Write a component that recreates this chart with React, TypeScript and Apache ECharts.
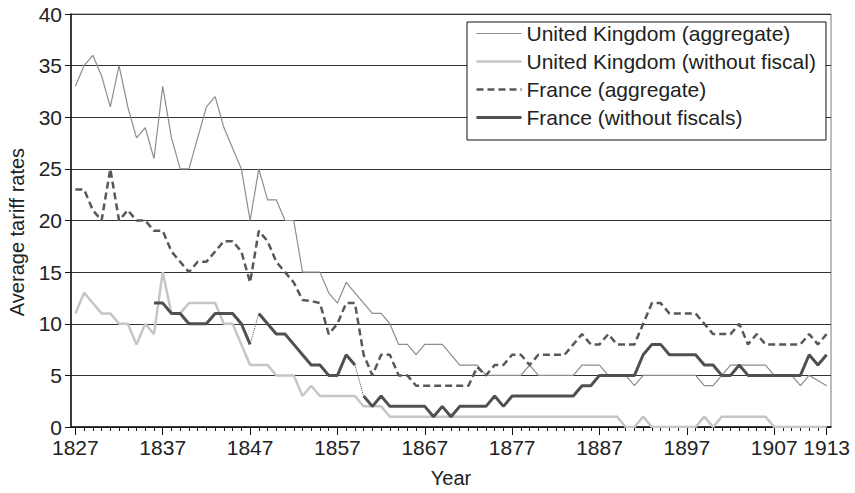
import React, { useEffect, useRef } from "react";
import * as echarts from "echarts";

const years: number[] = Array.from({ length: 87 }, (_, i) => 1827 + i);
const xLabelYears = [1827, 1837, 1847, 1857, 1867, 1877, 1887, 1897, 1907, 1913];

const ukAggregate = [
  33, 35, 36, 34, 31, 35, 31, 28, 29, 26,
  33, 28, 25, 25, 28, 31, 32, 29, 27, 25,
  20, 25, 22, 22, 20, 20, 15, 15, 15, 13,
  12, 14, 13, 12, 11, 11, 10, 8, 8, 7,
  8, 8, 8, 7, 6, 6, 6, 5, 5, 5,
  5, 5, 6, 5, 5, 5, 5, 5, 6, 6,
  6, 5, 5, 5, 4, 5, 5, 5, 5, 5,
  5, 5, 4, 4, 5, 6, 6, 6, 6, 6,
  5, 5, 5, 4, 5, 4.5, 4,
];

const ukWithoutFiscal = [
  11, 13, 12, 11, 11, 10, 10, 8, 10, 9,
  15, 11, 11, 12, 12, 12, 12, 10, 10, 8,
  6, 6, 6, 5, 5, 5, 3, 4, 3, 3,
  3, 3, 3, 2, 2, 2, 1, 1, 1, 1,
  1, 1, 1, 1, 1, 1, 1, 1, 1, 1,
  1, 1, 1, 1, 1, 1, 1, 1, 1, 1,
  1, 1, 1, 0, 0, 1, 0, 0, 0, 0,
  0, 0, 1, 0, 1, 1, 1, 1, 1, 1,
  0, 0, 0, 0, 0, 0, 0,
];

const franceAggregate = [
  23, 23, 21, 20, 25, 20, 21, 20, 20, 19,
  19, 17, 16, 15, 16, 16, 17, 18, 18, 17,
  14, 19, 18, 16, 15, 14, 12.3, 12.2, 12, 9,
  10, 12, 12, 7, 5, 7, 7, 5, 5, 4,
  4, 4, 4, 4, 4, 4, 5.8, 5, 6, 6,
  7, 7, 6, 7, 7, 7, 7, 8, 9, 8,
  8, 9, 8, 8, 8, 10, 12, 12, 11, 11,
  11, 11, 10, 9, 9, 9, 10, 8, 9, 8,
  8, 8, 8, 8, 9, 8, 9,
];

const franceWithoutFiscals: (number | null)[] = [
  null, null, null, null, null, null, null, null, null, 12,
  12, 11, 11, 10, 10, 10, 11, 11, 11, 10,
  8, 11, 10, 9, 9, 8, 7, 6, 6, 5,
  5, 7, 6, 3, 2, 3, 2, 2, 2, 2,
  2, 1, 2, 1, 2, 2, 2, 2, 3, 2,
  3, 3, 3, 3, 3, 3, 3, 3, 4, 4,
  5, 5, 5, 5, 5, 7, 8, 8, 7, 7,
  7, 7, 6, 6, 5, 5, 6, 5, 5, 5,
  5, 5, 5, 5, 7, 6, 7,
];

// France (without fiscals) is drawn as separate segments joined by thin dotted links
const franceSegments: [number, number][] = [
  [1836, 1847],
  [1848, 1859],
  [1860, 1913],
];

const legendNames = [
  "United Kingdom (aggregate)",
  "United Kingdom (without fiscal)",
  "France (aggregate)",
  "France (without fiscals)",
];

const FONT = "'Liberation Sans', Arial, Helvetica, sans-serif";

function pairs(vals: (number | null)[]) {
  return years.map((y, i) => [y, vals[i] === null ? "-" : vals[i]]);
}

function valueAt(year: number) {
  return franceWithoutFiscals[years.indexOf(year)];
}

export default function App() {
  const ref = useRef<HTMLDivElement>(null);

  useEffect(() => {
    if (!ref.current) return;
    const chart = echarts.init(ref.current, null, { renderer: "svg" });

    const colUkAgg = "#8c8c8c";
    const colUkWo = "#c6c6c6";
    const colFrAgg = "#585858";
    const colFrWo = "#505050";

    const segSeries = franceSegments.map(([a, b]) => ({
      name: legendNames[3],
      type: "line",
      xAxisIndex: 0,
      symbol: "none",
      z: 5,
      lineStyle: { color: colFrWo, width: 3 },
      itemStyle: { color: colFrWo },
      data: years
        .map((y, i) => [y, franceWithoutFiscals[i]])
        .filter(([y, v]) => (y as number) >= a && (y as number) <= b && v !== null),
    }));

    const linkSeries = franceSegments.slice(1).map(([a], idx) => {
      const prevEnd = franceSegments[idx][1];
      return {
        name: "France link " + idx,
        type: "line",
        xAxisIndex: 0,
        symbol: "none",
        z: 4,
        lineStyle: { color: colFrWo, width: 1, type: "dotted" },
        itemStyle: { color: colFrWo },
        data: [
          [prevEnd, valueAt(prevEnd)],
          [a, valueAt(a)],
        ],
      };
    });

    const option: any = {
      animation: false,
      backgroundColor: "#ffffff",
      textStyle: { fontFamily: FONT },
      grid: {
        left: 71,
        right: 24,
        top: 14,
        bottom: 65,
        show: true,
        borderColor: "#7a7a7a",
        borderWidth: 1,
        backgroundColor: "transparent",
      },
      legend: {
        orient: "vertical",
        left: 467,
        top: 22,
        padding: [1, 10, 12, 8],
        itemWidth: 45,
        itemHeight: 14,
        itemGap: 7,
        borderColor: "#111",
        borderWidth: 1,
        backgroundColor: "#fff",
        z: 10,
        itemStyle: { opacity: 0 },
        textStyle: { fontSize: 21, lineHeight: 20, color: "#222", fontFamily: FONT },
        data: [
          { name: legendNames[0], lineStyle: { width: 1.2 } },
          { name: legendNames[1], lineStyle: { width: 2.5 } },
          { name: legendNames[2], lineStyle: { width: 2.5 } },
          { name: legendNames[3], lineStyle: { width: 3 } },
        ],
      },
      graphic: [
        {
          type: "text",
          x: 17,
          y: 232,
          rotation: Math.PI / 2,
          style: {
            text: "Average tariff rates",
            font: "20px " + FONT,
            fill: "#222",
            align: "center",
            verticalAlign: "middle",
          },
        },
      ],
      xAxis: [
        {
          type: "value",
          min: 1826.5,
          max: 1913.5,
          position: "bottom",
          splitLine: { show: false },
          axisLine: { show: true, lineStyle: { color: "#111", width: 1.5 } },
          axisTick: { show: true, customValues: years, length: 4, lineStyle: { color: "#111", width: 1 } },
          axisLabel: {
            customValues: xLabelYears,
            fontSize: 21,
            color: "#222",
            margin: 10,
            fontFamily: FONT,
            formatter: (v: number) => String(v),
          },
          name: "Year",
          nameLocation: "middle",
          nameGap: 41,
          nameTextStyle: { fontSize: 20, color: "#222", fontFamily: FONT },
        },
        {
          type: "value",
          min: 1826.5,
          max: 1913.5,
          position: "bottom",
          offset: 0,
          splitLine: { show: false },
          axisLine: { show: false },
          axisTick: { show: true, customValues: xLabelYears, length: 8, lineStyle: { color: "#111", width: 1 } },
          axisLabel: { show: false },
        },
      ],
      yAxis: {
        type: "value",
        min: 0,
        max: 40,
        interval: 5,
        axisLine: { show: true, lineStyle: { color: "#111", width: 1.5 } },
        axisTick: { show: true, length: 6, lineStyle: { color: "#111" } },
        axisLabel: { fontSize: 21, color: "#222", margin: 9, fontFamily: FONT },
        splitLine: { show: true, lineStyle: { color: "#333", width: 1 } },
      },
      series: [
        {
          name: legendNames[0],
          type: "line",
          xAxisIndex: 0,
          symbol: "none",
          z: 2,
          lineStyle: { color: colUkAgg, width: 1.2 },
          itemStyle: { color: colUkAgg },
          data: pairs(ukAggregate),
        },
        {
          name: legendNames[1],
          type: "line",
          xAxisIndex: 0,
          symbol: "none",
          z: 2,
          lineStyle: { color: colUkWo, width: 2.5 },
          itemStyle: { color: colUkWo },
          data: pairs(ukWithoutFiscal),
        },
        {
          name: legendNames[2],
          type: "line",
          xAxisIndex: 0,
          symbol: "none",
          z: 3,
          lineStyle: { color: colFrAgg, width: 2.5, type: [7, 4] },
          itemStyle: { color: colFrAgg },
          data: pairs(franceAggregate),
        },
        ...segSeries,
        ...linkSeries,
      ],
    };

    chart.setOption(option);
    return () => chart.dispose();
  }, []);

  return (
    <div
      ref={ref}
      style={{ position: "fixed", left: 0, top: 0, width: 855, height: 493, background: "#fff" }}
    />
  );
}
